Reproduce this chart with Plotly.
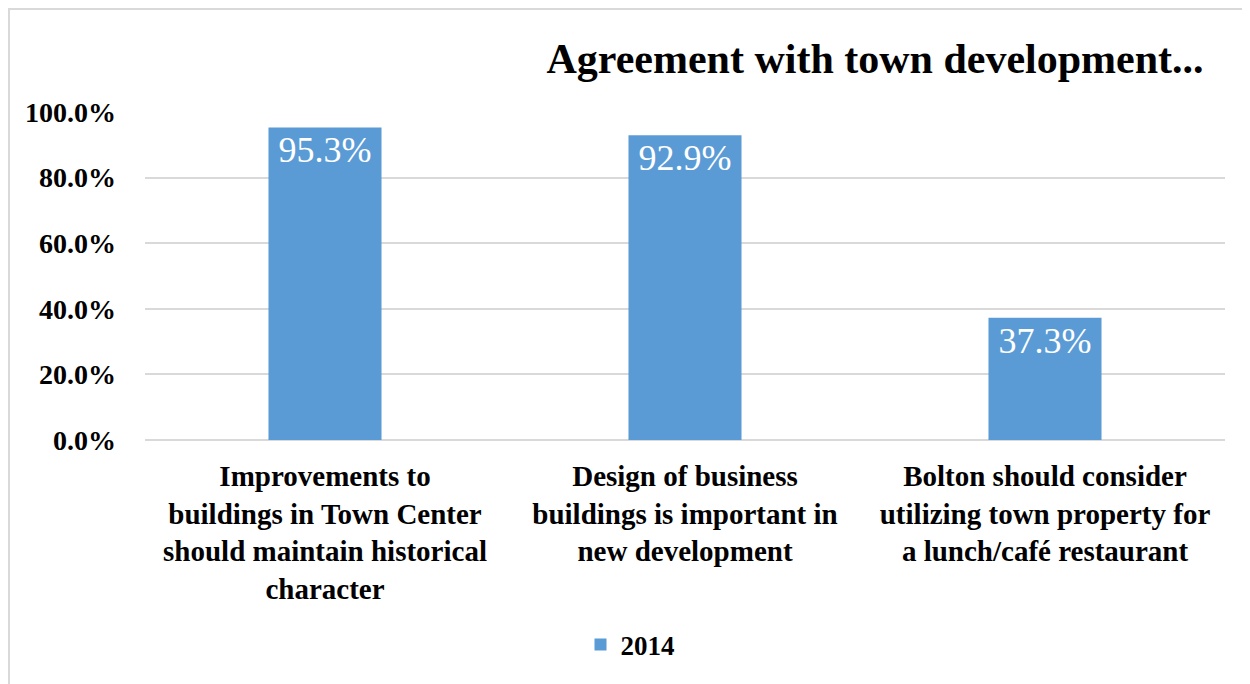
import plotly.graph_objects as go

categories = [
    "Improvements to<br>buildings in Town Center<br>should maintain historical<br>character",
    "Design of business<br>buildings is important in<br>new development",
    "Bolton should consider<br>utilizing town property for<br>a lunch/café restaurant",
]
values_2014 = [0.953, 0.929, 0.373]
series_name = "2014"
tick_vals = [0, 0.2, 0.4, 0.6, 0.8, 1.0]

FONT = "Liberation Serif"

# page body has an 8px margin; target coordinates below are screen pixels
OFF = 8
W, H = 1250, 684
L = 145 - OFF
T = 112 - OFF
R = W - (1225 - OFF)
B = H - (440 - OFF)
pw = W - L - R
ph = H - T - B

fig = go.Figure()
fig.add_trace(go.Bar(
    x=categories,
    y=values_2014,
    name=series_name,
    marker=dict(color="#5b9bd5", line=dict(width=0)),
    width=0.314,
    text=[f"{v*100:.1f}%" for v in values_2014],
    textposition="inside",
    insidetextanchor="end",
    textfont=dict(family=FONT, size=36, color="white"),
    showlegend=True,
))

fig.update_layout(
    width=W, height=H,
    margin=dict(l=L, r=R, t=T, b=B),
    paper_bgcolor="white",
    plot_bgcolor="white",
    font=dict(family=FONT, color="black"),
    title=dict(
        text="<b>Agreement with town development...</b>",
        x=(875 - OFF) / W, xref="container", xanchor="center",
        y=1 - (58 - OFF) / H, yref="container", yanchor="middle",
        font=dict(family=FONT, size=42, color="black"),
    ),
    showlegend=True,
    legend=dict(
        orientation="h",
        x=(630 - OFF - L) / pw, xanchor="center",
        y=-(645 - OFF - (H - B)) / ph, yanchor="middle",
        font=dict(family=FONT, size=27, color="black", weight="bold"),
        itemwidth=30,
    ),
    yaxis=dict(
        range=[0, 1.0],
        tickvals=tick_vals,
        tickformat=".1%",
        showgrid=True,
        gridcolor="#d9d9d9",
        gridwidth=1.5,
        zeroline=True,
        zerolinecolor="#d9d9d9",
        zerolinewidth=1.5,
        showline=False,
        ticks="",
        ticklabelstandoff=28,
        tickfont=dict(family=FONT, size=28, color="black", weight="bold"),
    ),
    xaxis=dict(
        showline=False,
        ticks="",
        tickangle=0,
        ticklabelstandoff=16,
        tickfont=dict(family=FONT, size=29, color="black", weight="bold"),
    ),
)

# light outer chart border (top and left visible)
fig.add_shape(
    type="rect", xref="paper", yref="paper",
    x0=(1 - L) / pw, x1=(W + 20 - L) / pw,
    y0=-(H + 20 - (H - B)) / ph, y1=(H - B - 1) / ph,
    line=dict(color="#d9d9d9", width=2), fillcolor="rgba(0,0,0,0)",
    layer="below",
)

fig.write_html("out.html")
